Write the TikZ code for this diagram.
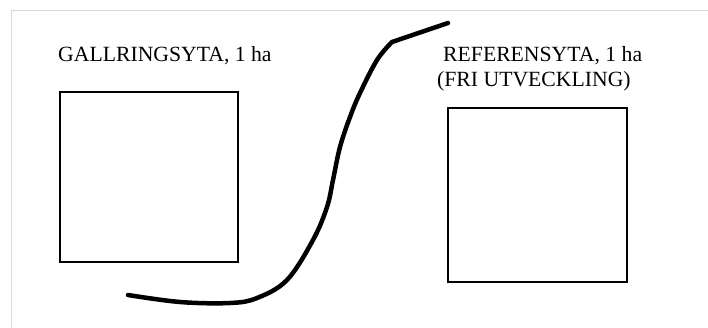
\documentclass[tikz,border=0pt]{standalone}
\usepackage{fontspec}
\setmainfont{Liberation Serif}
\usepackage{tikz}
\usetikzlibrary{positioning, calc}

\tikzset{
    ytlabel/.style={inner sep=0pt, anchor=base west, font=\fontsize{21.7}{25}\selectfont},
    ytbox/.style={draw, line width=2pt, inner sep=0pt},
}

\begin{document}
\begin{tikzpicture}[x=1pt, y=-1pt]
    \useasboundingbox (0,0) rectangle (708,328);
    % faint frame of the page
    \draw[gray!30, line width=0.8pt] (11,328) -- (11,10) -- (708,10);
    % left plot
    \node[ytlabel] (gallring) at (58,62) {GALLRINGSYTA, 1 ha};
    \node[ytbox, minimum width=178pt, minimum height=170pt] (gallbox) at (149,177) {};
    % right plot
    \node[ytlabel] (referens) at (443,62) {REFERENSYTA, 1 ha};
    \node[ytlabel] (fri) at (437,87) {(FRI UTVECKLING)};
    \node[ytbox, minimum width=179pt, minimum height=174pt] (refbox) at (537.5,195) {};
    % dividing stroke
    \draw[line width=4.5pt, line cap=round, line join=round] plot[smooth, tension=0.6] coordinates {
        (128,295) (180,302) (230,303) (257,298) (287,280) (313,240)
        (327,207) (333,180) (340,147) (350,117) (360,93) (377,60) (392,42)}
        -- (448,23);
\end{tikzpicture}
\end{document}
